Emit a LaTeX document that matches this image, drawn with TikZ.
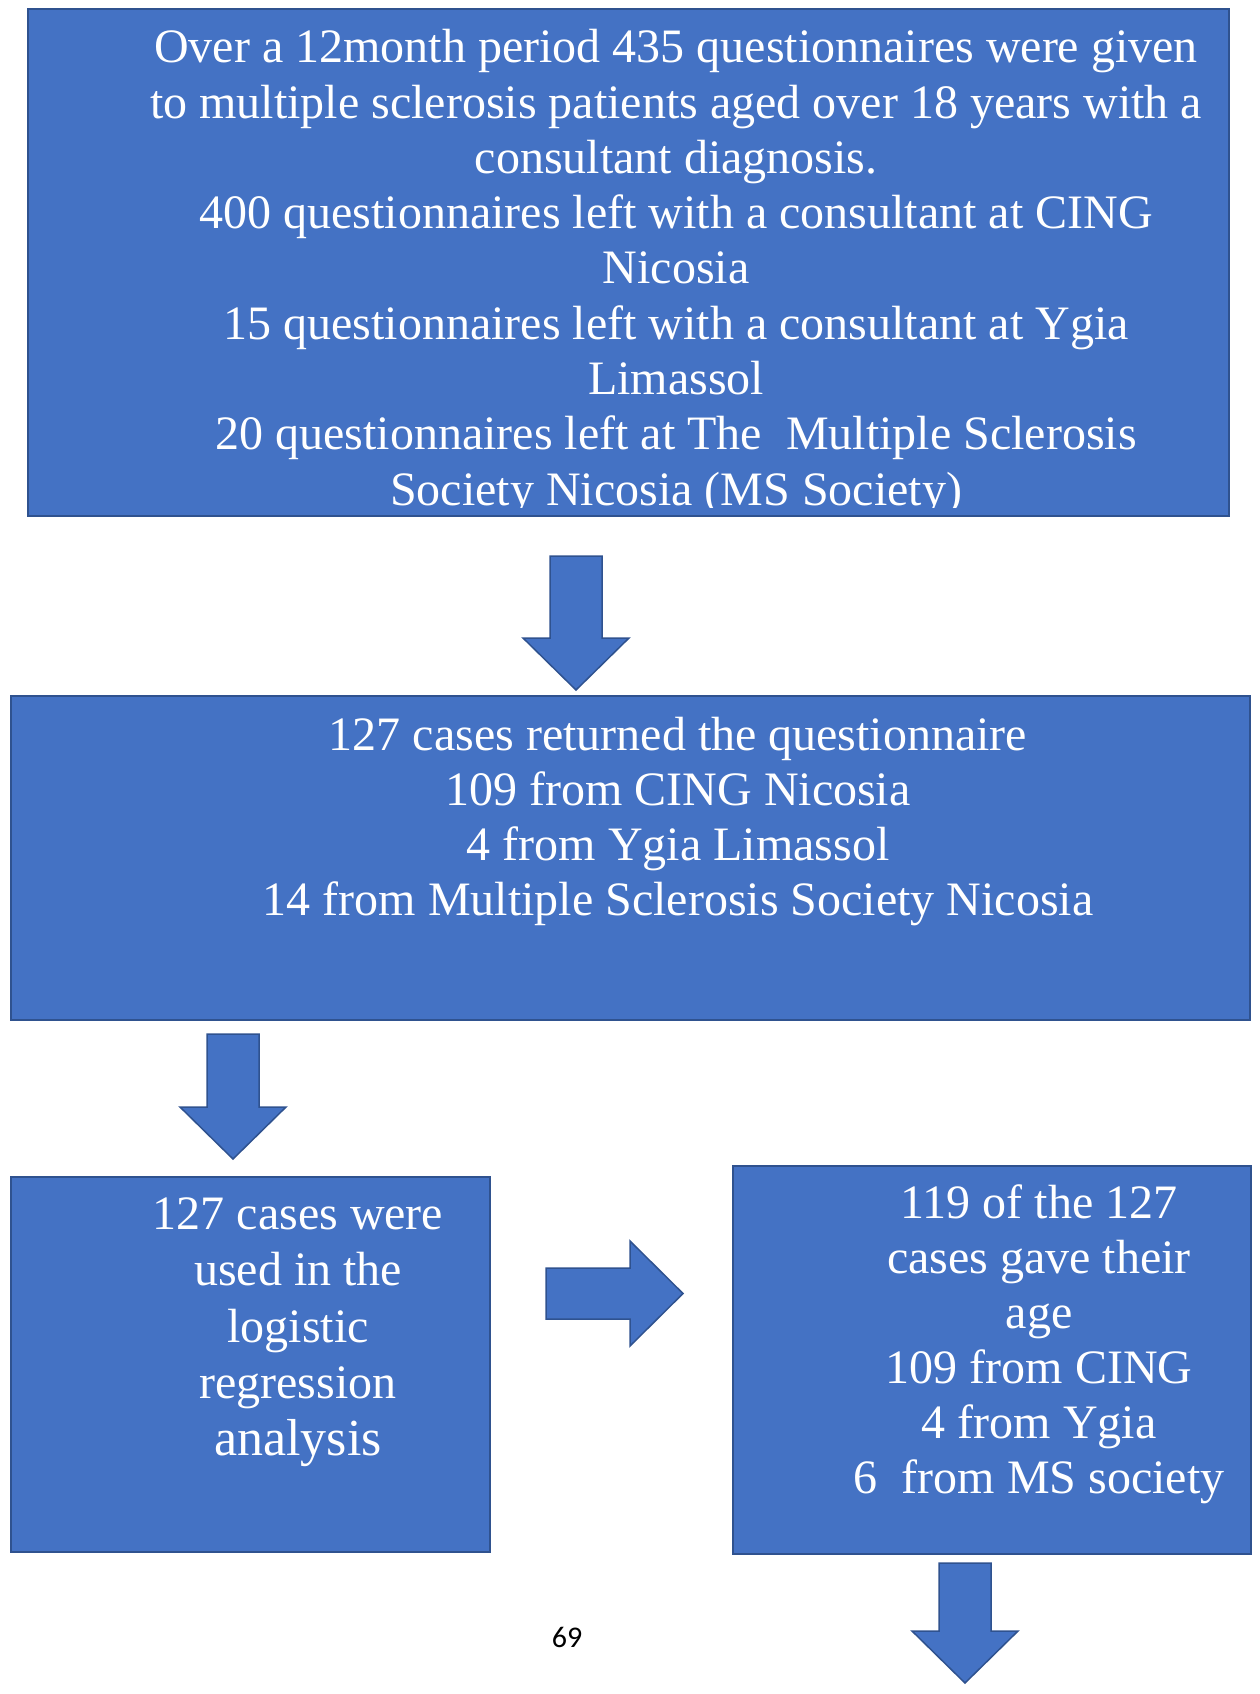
\documentclass[tikz,border=0pt]{standalone}
\usepackage{fontspec}
\setmainfont{Liberation Serif}
\newfontfamily\pagefont{Carlito}
\definecolor{boxblue}{HTML}{4472C4}
\definecolor{boxedge}{HTML}{2F528F}

% #1 = centre x, #2 = top, #3 = tip
\newcommand{\downblock}[3]{%
  \draw[barrow] (#1-26,#2) -- (#1+26,#2) -- (#1+26,#3-52) -- (#1+53,#3-52)
             -- (#1,#3) -- (#1-53,#3-52) -- (#1-26,#3-52) -- cycle;}
% #1 = centre y, #2 = left, #3 = tip
\newcommand{\rightblock}[3]{%
  \draw[barrow] (#2,#1-25.5) -- (#3-53,#1-25.5) -- (#3-53,#1-52.5) -- (#3,#1)
             -- (#3-53,#1+52.5) -- (#3-53,#1+25.5) -- (#2,#1+25.5) -- cycle;}

\begin{document}
\begin{tikzpicture}
  [x=1pt, y=-1pt,
    box/.style={rectangle, draw=boxedge, line width=2pt, fill=boxblue, anchor=north west, inner sep=0pt},
    txt/.style={text=white, anchor=base, inner sep=0pt, font=\fontsize{48}{55}\selectfont},
    barrow/.style={draw=boxedge, line width=1.5pt, fill=boxblue, line join=miter}
  ]
  \useasboundingbox (0,0) rectangle (1259,1694);

  \node[box, minimum width=1201pt, minimum height=507pt] (b1) at (27,8) {};
  \node[box, minimum width=1239pt, minimum height=324pt] (b2) at (10,695) {};
  \node[box, minimum width=479pt,  minimum height=375pt] (b3) at (10,1176) {};
  \node[box, minimum width=518pt,  minimum height=388pt] (b4) at (732,1165) {};

  % box 1, last line cut off by the box
  \begin{scope}
    \clip (b1.north west) rectangle ([yshift=10pt]b1.south east);
    \foreach \lbl [count=\i] in {Over a 12month period 435 questionnaires were given,
        to multiple sclerosis patients aged over 18 years with a,
        consultant diagnosis.,
        400 questionnaires left with a consultant at CING,
        Nicosia,
        15 questionnaires left with a consultant at Ygia,
        Limassol,
        20 questionnaires left at The\ \ Multiple Sclerosis,
        Society Nicosia (MS Society)} {
      \node[txt] (t1-\i) at (676, 62.7+55.3*\i-55.3) {\lbl};
    }
  \end{scope}

  % box 2
  \foreach \lbl [count=\i] in {127 cases returned the questionnaire,
      109 from CING Nicosia,
      4 from Ygia Limassol,
      14 from Multiple Sclerosis Society Nicosia} {
    \node[txt] (t2-\i) at (678, 750+55*\i-55) {\lbl};
  }

  % box 3
  \foreach \lbl [count=\i] in {127 cases were, used in the, logistic, regression,
      {\fontsize{52}{60}\selectfont analysis}} {
    \node[txt] (t3-\i) at (298, 1229+56.5*\i-56.5) {\lbl};
  }

  % box 4
  \foreach \lbl [count=\i] in {119 of the 127, cases gave their, age,
      109 from CING, 4 from Ygia, 6\ \ from MS society} {
    \node[txt] (t4-\i) at (1039, 1218+55*\i-55) {\lbl};
  }

  % block arrows
  \downblock{576}{556}{690}
  \downblock{233}{1034}{1159}
  \rightblock{1293.5}{546}{683}
  \downblock{965}{1563}{1683}

  \node[anchor=base, inner sep=0pt, font=\pagefont\fontsize{30}{36}\selectfont] (pg) at (567,1647) {69};

\end{tikzpicture}
\end{document}
